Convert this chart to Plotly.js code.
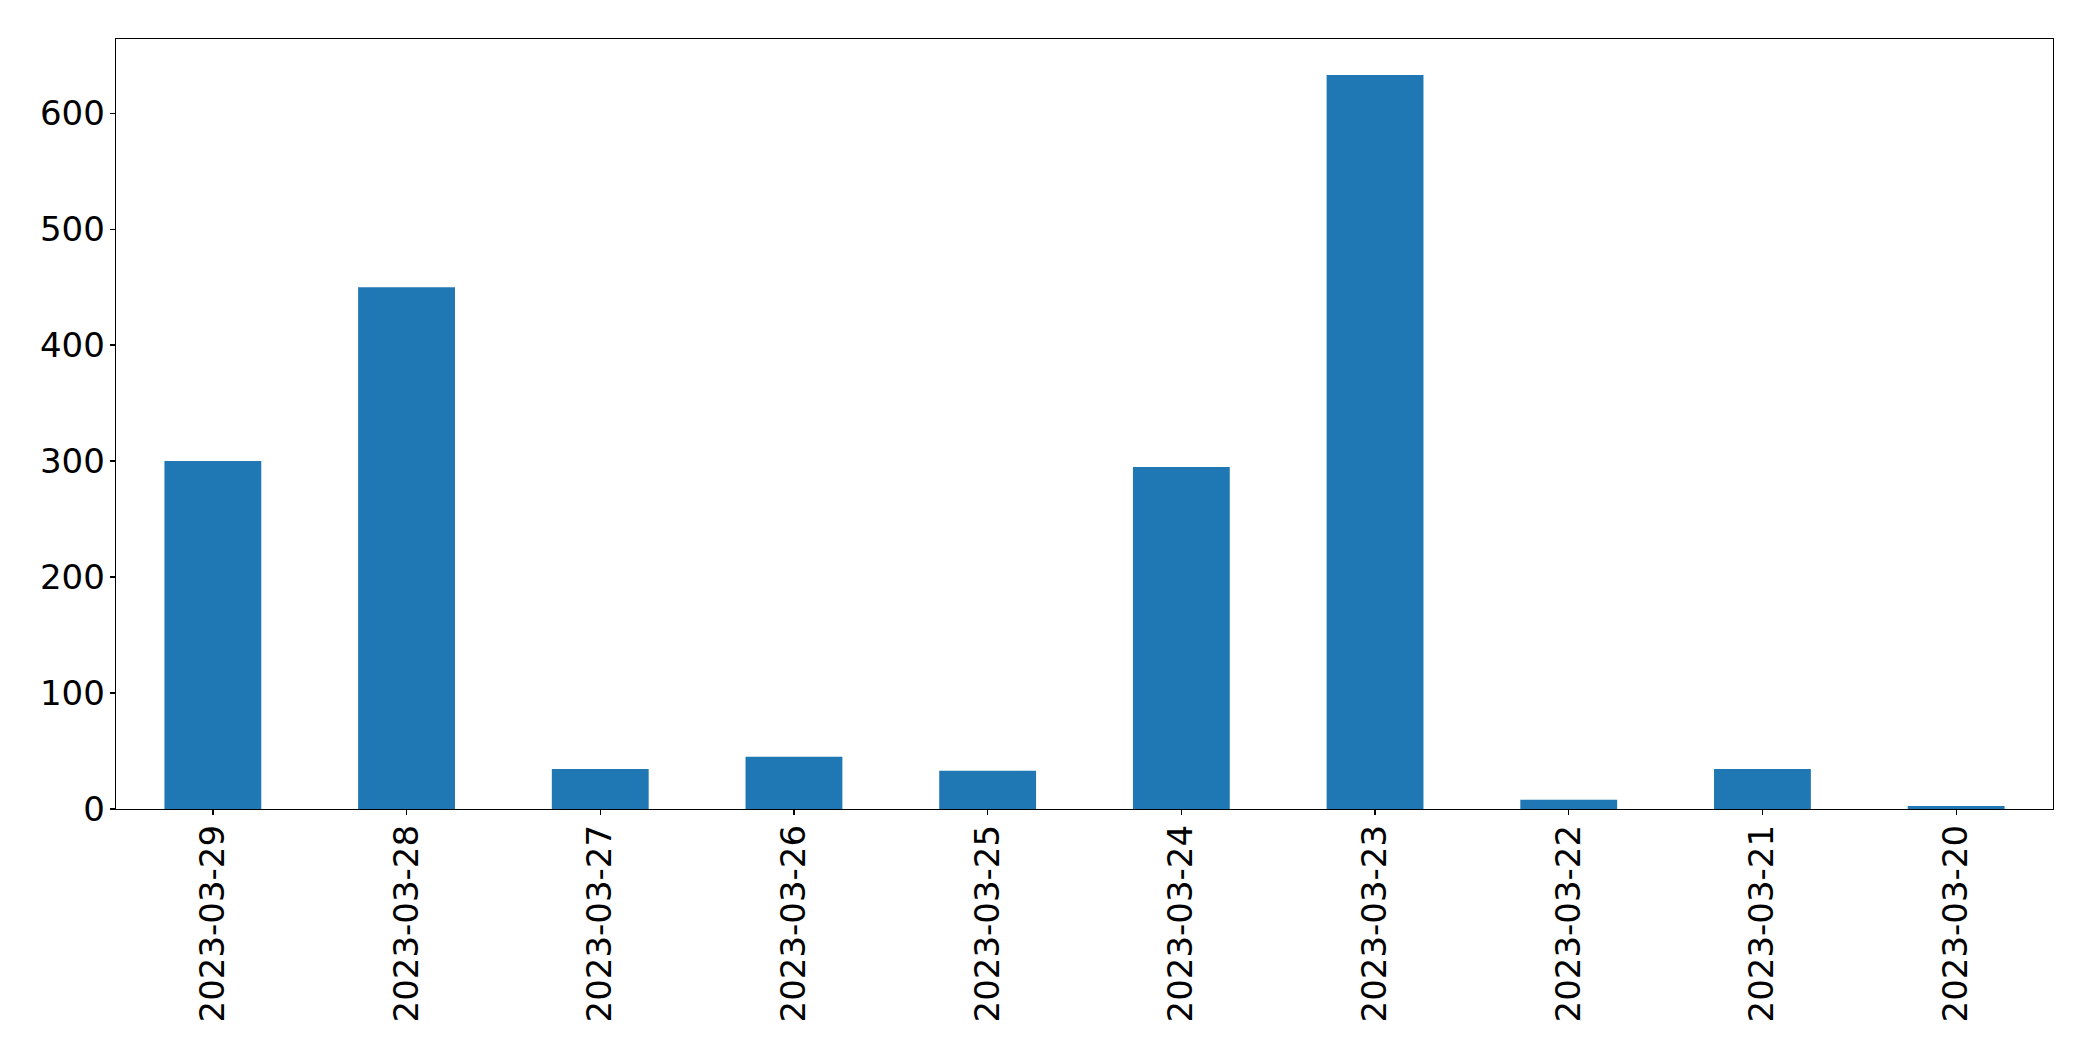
<!DOCTYPE html>
<html>
<head>
<meta charset="utf-8">
<script src="https://cdn.plot.ly/plotly-3.0.1.min.js"></script>
<style>html,body{margin:0;padding:0;background:#fff;}#chart{width:2093px;height:1061px;}</style>
</head>
<body>
<div id="chart"></div>
<script>
const dates = ["2023-03-29","2023-03-28","2023-03-27","2023-03-26","2023-03-25","2023-03-24","2023-03-23","2023-03-22","2023-03-21","2023-03-20"];
const counts = [300, 450, 34.5, 45, 33, 295, 633, 8, 34.5, 2.5];
const yTicks = [0, 100, 200, 300, 400, 500, 600];

const trace = {
  type: 'bar',
  x: dates,
  y: counts,
  marker: {color: '#1f77b4', line: {width: 0}},
  width: 0.5,
  hoverinfo: 'x+y'
};

const layout = {
  width: 2093,
  height: 1061,
  margin: {l: 116, r: 40, t: 39, b: 252, pad: 0},
  paper_bgcolor: '#ffffff',
  plot_bgcolor: '#ffffff',
  font: {family: 'DejaVu Sans', size: 34, color: '#000000'},
  showlegend: false,
  bargap: 0.5,
  xaxis: {
    type: 'category',
    range: [-0.5, 9.5],
    tickangle: -90,
    ticks: 'outside',
    ticklen: 5,
    tickwidth: 1.3,
    tickcolor: '#000',
    showline: true,
    linecolor: '#000',
    linewidth: 1.3,
    mirror: true,
    showgrid: false,
    zeroline: false,
    tickfont: {family: 'DejaVu Sans', size: 34, color: '#000'},
    ticklabelstandoff: -4
  },
  yaxis: {
    range: [0, 664],
    tickvals: yTicks,
    ticktext: yTicks.map(String),
    ticks: 'outside',
    ticklen: 5,
    tickwidth: 1.3,
    tickcolor: '#000',
    showline: true,
    linecolor: '#000',
    linewidth: 1.3,
    mirror: true,
    showgrid: false,
    zeroline: false,
    tickfont: {family: 'DejaVu Sans', size: 34, color: '#000'},
    ticklabelstandoff: -2
  }
};

Plotly.newPlot('chart', [trace], layout, {displayModeBar: false, staticPlot: true});
</script>
</body>
</html>
